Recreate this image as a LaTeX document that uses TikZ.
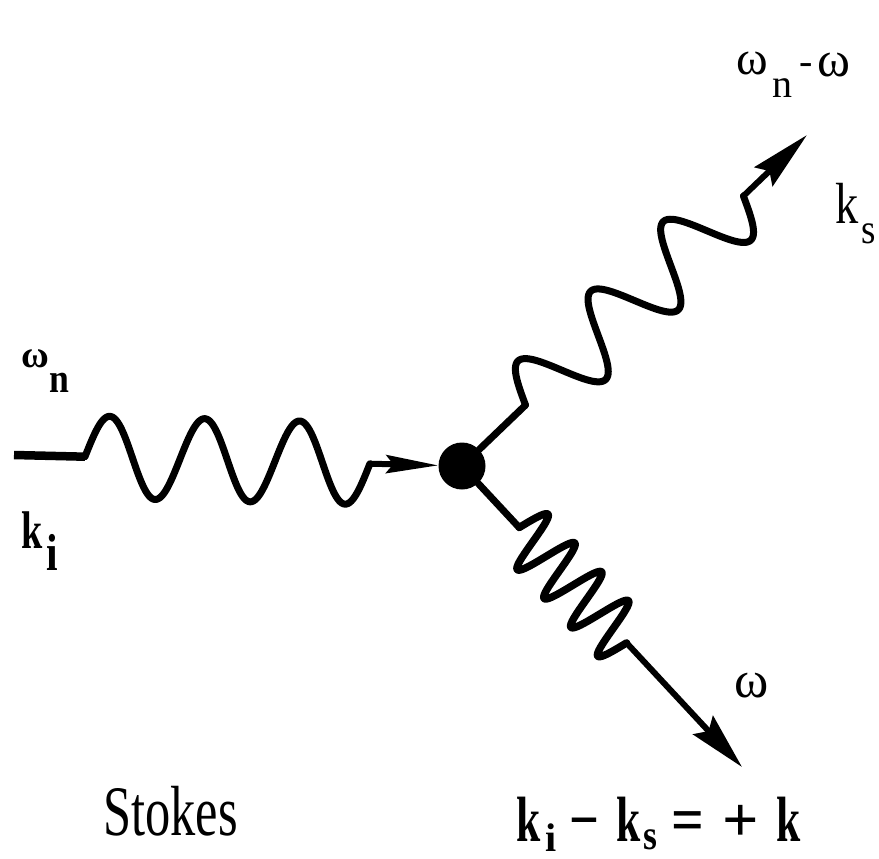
\documentclass[tikz,border=0pt]{standalone}
\usepackage{fontspec}
\setmainfont{Liberation Serif}
\usetikzlibrary{arrows.meta}
\newcommand{\fs}[1]{\fontsize{#1}{#1}\selectfont}
\newcommand{\nx}[2]{\scalebox{#1}[1]{#2}}
\begin{document}
\begin{tikzpicture}[x=1pt,y=-1pt,
  wave/.style={line width=7pt, line join=round, line cap=round},
  shaft/.style={line width=6pt, line cap=round},
  vertexdot/.style={circle, fill=black, minimum size=47pt, inner sep=0pt},
  lab/.style={inner sep=0pt, anchor=base west}]
\useasboundingbox (0,0) rectangle (879,859);

% vertex and end points
\node[vertexdot] (v) at (462,466) {};
\coordinate (in) at (14,455);
\coordinate (s) at (807,135);
\coordinate (p) at (742,767);

% incoming wave (omega_n, k_i)
\coordinate (w1s) at (85,456.7);
\coordinate (w1e) at (369.9,463.7);
\draw[wave, line width=8.5pt, line cap=butt] (in) -- (w1s);
\draw[wave] plot[domain=71:356, samples=241]
  ({14+\x*0.9997+41*sin((\x-71)*3.78947)*0.02455},
   {455+\x*0.02455-41*sin((\x-71)*3.78947)*0.9997});
\draw[shaft, -{Stealth[length=52pt,width=18pt,inset=7pt]}] (w1e) -- (v);

% scattered wave (omega_n - omega, k_s)
\coordinate (w2s) at (525.5,405.1);
\coordinate (w2e) at (743.4,196);
\draw[wave] (v) -- (w2s);
\draw[wave] plot[domain=88:390, samples=241]
  ({462+\x*0.7216-37*sin((\x-88)*3.57616)*0.6923},
   {466-\x*0.6923-37*sin((\x-88)*3.57616)*0.7216});
\draw[shaft, -{Stealth[length=60pt,width=26pt,inset=8pt]}] (w2e) -- (s);

% phonon wave (omega, k)
\coordinate (w3s) at (519.2,527.5);
\coordinate (w3e) at (626.6,642.9);
\draw[wave] (v) -- (w3s);
\draw[wave, line width=7.5pt] plot[domain=84:241.6, samples=401]
  ({462+\x*0.6811+30*sin((\x-84)*9.13706)*0.7322},
   {466+\x*0.7322-30*sin((\x-84)*9.13706)*0.6811});
\draw[shaft, -{Stealth[length=57pt,width=27pt,inset=8pt]}] (w3e) -- (p);

% labels at the incoming wave
\node[lab] (lwn) at (21,367) {\fs{38}\bfseries ω};
\node[lab] (lwnn) at (49,392) {\fs{41}\bfseries\nx{0.87}{n}};
\node[lab] (lk) at (21,548) {\fs{53}\bfseries\nx{0.72}{k}};
\node[lab] (lki) at (46,570) {\fs{52}\bfseries\nx{0.8}{i}};

% labels at the scattered wave
\node[lab] (tw) at (736,75) {\fs{48}ω};
\node[lab] (tn) at (772,98) {\fs{40}n};
\node[lab] (tm) at (799,75) {\fs{40}-};
\node[lab] (tw2) at (817,77) {\fs{50}ω};
\node[lab] (ks) at (835,223) {\fs{58}\nx{0.8}{k}};
\node[lab] (kss) at (861,243) {\fs{42}\nx{0.88}{s}};

% label at the phonon wave
\node[lab] (bw) at (734,697) {\fs{52}ω};

% captions
\node[lab] (stokes) at (103,835) {\fs{71}\nx{0.71}{Stokes}};
\node[lab] (e1) at (516,841) {\fs{64}\bfseries\nx{0.68}{k}};
\node[lab] (e2) at (545,851) {\fs{40}\bfseries i};
\node[lab] (e3) at (569,841) {\fs{64}\bfseries\nx{0.82}{−}};
\node[lab] (e4) at (616,841) {\fs{64}\bfseries\nx{0.68}{k}};
\node[lab] (e5) at (643,849) {\fs{42}\bfseries\nx{0.85}{s}};
\node[lab] (e6) at (671,841) {\fs{64}\bfseries\nx{0.9}{=}};
\node[lab] (e7) at (722,841) {\fs{64}\bfseries +};
\node[lab] (e8) at (776,841) {\fs{64}\bfseries\nx{0.68}{k}};
\end{tikzpicture}
\end{document}
